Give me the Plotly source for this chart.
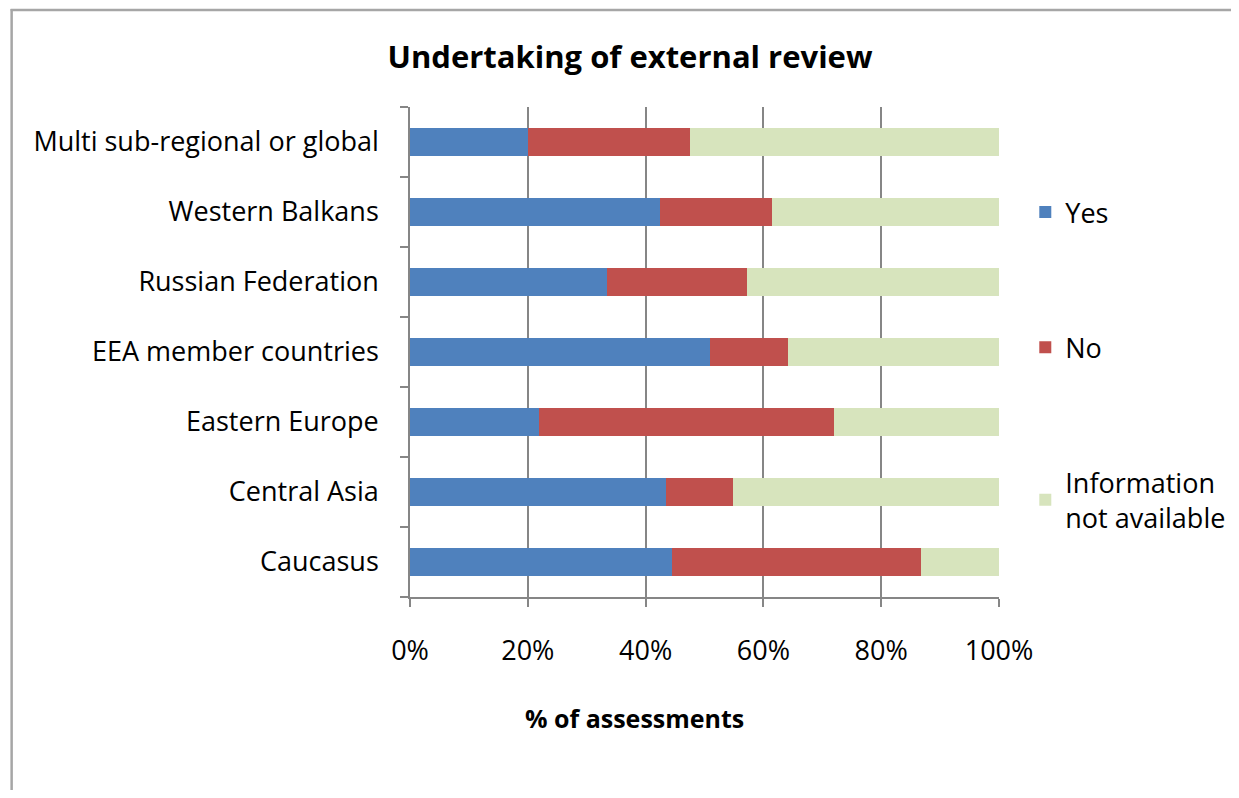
import plotly.graph_objects as go

categories = ["Caucasus", "Central Asia", "Eastern Europe", "EEA member countries",
              "Russian Federation", "Western Balkans", "Multi sub-regional or global"]
yes_vals = [44.4, 43.4, 21.9, 50.9, 33.5, 42.4, 20.0]
no_vals = [42.4, 11.5, 50.1, 13.2, 23.7, 19.0, 27.6]
na_vals = [13.2, 45.1, 28.0, 35.9, 42.8, 38.6, 52.4]
series_names = ["Yes", "No", "Information<br>not available"]
x_ticks = [0, 20, 40, 60, 80, 100]
x_tick_labels = ["0%", "20%", "40%", "60%", "80%", "100%"]

colors = ["#4F81BD", "#C0504D", "#D7E4BD"]
FONT = "Open Sans"
FS = 27

OFF = 8  # page body margin
W, H = 1239 - 2 * OFF, 798 - 2 * OFF
L, R, T, B = 409.5 - OFF, 998.7 - OFF, 107 - OFF, 597 - OFF

fig = go.Figure()
for i, (name, vals) in enumerate(zip(series_names, [yes_vals, no_vals, na_vals])):
    fig.add_trace(go.Bar(
        y=categories, x=vals, name=name, orientation="h",
        marker=dict(color=colors[i], line=dict(width=0)),
        legendgroup=str(i),
    ))

pw = R - L
ph = B - T
def px(x):
    return (x - OFF - L) / pw
def py(y):
    return (B - (y - OFF)) / ph

AX = "#868686"
fig.update_layout(
    width=W, height=H,
    barmode="stack", bargap=0.6,
    plot_bgcolor="white", paper_bgcolor="white",
    margin=dict(l=L, r=W - R, t=T, b=H - B, pad=0, autoexpand=False),
    font=dict(family=FONT, size=FS, color="#000000"),
    title=dict(text="<b>Undertaking of external review</b>", x=(630 - OFF) / W, xanchor="center",
               y=1 - (57 - OFF) / H, yanchor="middle", font=dict(family=FONT, size=31, color="#000000")),
    xaxis=dict(range=[0, 100], tickvals=x_ticks, ticktext=x_tick_labels,
               showgrid=True, gridcolor=AX, gridwidth=1.6,
               showline=True, linecolor=AX, linewidth=1.6,
               ticks="outside", ticklen=8, tickcolor=AX, tickwidth=1.6,
               ticklabelstandoff=21, zeroline=False, fixedrange=True),
    yaxis=dict(showline=True, linecolor=AX, linewidth=1.6,
               ticks="outside", ticklen=8, tickcolor=AX, tickwidth=1.6,
               tickson="boundaries", ticklabelstandoff=24, showgrid=False,
               fixedrange=True),
    legend=dict(x=px(1025), y=py(188), xanchor="left", yanchor="top",
                traceorder="grouped", tracegroupgap=97,
                font=dict(family=FONT, size=FS, color="#000000"),
                bgcolor="rgba(0,0,0,0)"),
    annotations=[dict(text="<b>% of assessments</b>", x=px(634), y=py(718),
                      xref="paper", yref="paper", showarrow=False,
                      xanchor="center", yanchor="middle",
                      font=dict(family=FONT, size=25, color="#000000"))],
    shapes=[
        dict(type="line", xref="paper", yref="paper",
             x0=px(10), x1=px(1250), y0=py(10), y1=py(10),
             line=dict(color="#A6A6A6", width=2.5), layer="below"),
        dict(type="line", xref="paper", yref="paper",
             x0=px(11), x1=px(11), y0=py(9), y1=py(810),
             line=dict(color="#A6A6A6", width=2.5), layer="below"),
    ],
)

fig.write_html("out.html")
